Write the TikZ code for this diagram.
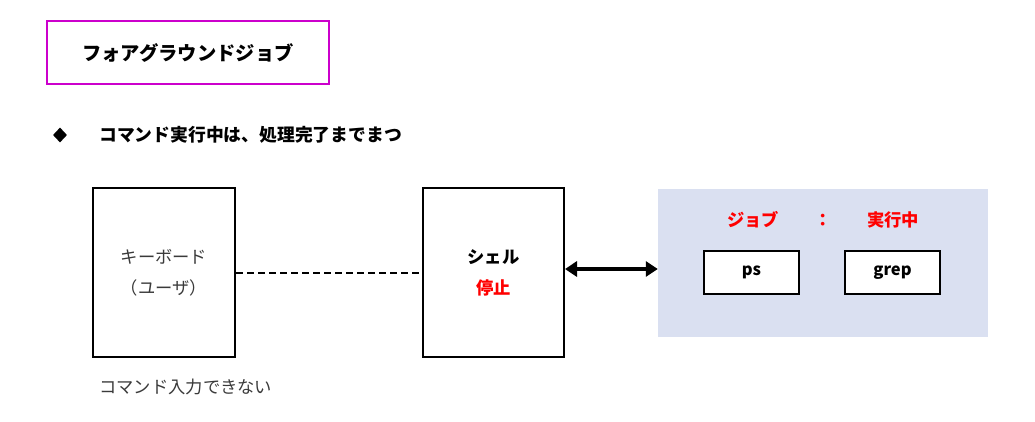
\documentclass[tikz,border=0pt]{standalone}
\usepackage{fontspec}
\setmainfont{Noto Sans CJK JP}
\usetikzlibrary{arrows.meta,shapes.geometric}
\definecolor{magbox}{HTML}{CC00CC}
\definecolor{jobbg}{HTML}{DAE0F1}
\definecolor{jpred}{HTML}{FF0000}
\definecolor{kbtext}{HTML}{3A3A3A}
\tikzset{
  box/.style={draw=black, line width=2pt, fill=white, inner sep=0pt},
  lbl/.style={inner sep=0pt, font=\fontsize{17.3}{20}\selectfont},
  blbl/.style={inner sep=0pt, font=\fontsize{17.3}{20}\selectfont\bfseries},
  redlbl/.style={blbl, text=jpred},
}
\begin{document}
\begin{tikzpicture}[x=1pt,y=-1pt]
\useasboundingbox (0,0) rectangle (1035,421);
% title
\node[draw=magbox, line width=2pt, minimum width=282pt, minimum height=63pt, inner sep=0pt,
      font=\fontsize{19.3}{22}\selectfont\bfseries] (title) at (188,52.5) {フォアグラウンドジョブ};
% bullet
\node[diamond, fill=black, inner sep=0pt, minimum width=14pt, minimum height=15pt] (bullet) at (60,135) {};
\node[anchor=west, inner sep=0pt, font=\fontsize{17.8}{20}\selectfont\bfseries] (sub) at (99,135) {コマンド実行中は、処理完了までまつ};
% keyboard
\node[box, minimum width=142pt, minimum height=169pt] (kb) at (164,272.5) {};
\node[lbl, text=kbtext] (kb1) at (164,257) {キーボード};
\node[lbl, text=kbtext] (kb2) at (164,288) {（ユーザ）};
% shell
\node[box, minimum width=141pt, minimum height=169pt] (sh) at (493.5,272.5) {};
\node[blbl] (sh1) at (493.5,257) {シェル};
\node[redlbl] (sh2) at (493.5,288) {停止};
% job area
\node[fill=jobbg, minimum width=330pt, minimum height=148pt, inner sep=0pt] (job) at (823,263) {};
\node[redlbl] (j1) at (753,220) {ジョブ};
\node[redlbl] (j2) at (823,220) {：};
\node[redlbl] (j3) at (893,220) {実行中};
\node[box, minimum width=95pt, minimum height=43pt, font=\fontsize{16.5}{18}\selectfont\bfseries] (ps) at (751.5,272.5) {ps};
\node[box, minimum width=95pt, minimum height=43pt, font=\fontsize{16.5}{18}\selectfont\bfseries] (grep) at (892.5,272.5) {grep};
% connectors
\draw[line width=2pt, dash pattern=on 7pt off 4pt] (kb.east |- 0,273) -- (sh.west |- 0,273);
\coordinate (shR) at (sh.east |- 0,269);
\coordinate (jobL) at (job.west |- 0,269);
\draw[line width=4.5pt, {Triangle[length=12pt,width=15pt]}-{Triangle[length=12pt,width=15pt]}] (shR) -- (jobL);
% note
\node[lbl, text=kbtext, anchor=west] (note) at (99,387) {コマンド入力できない};
\end{tikzpicture}
\end{document}
